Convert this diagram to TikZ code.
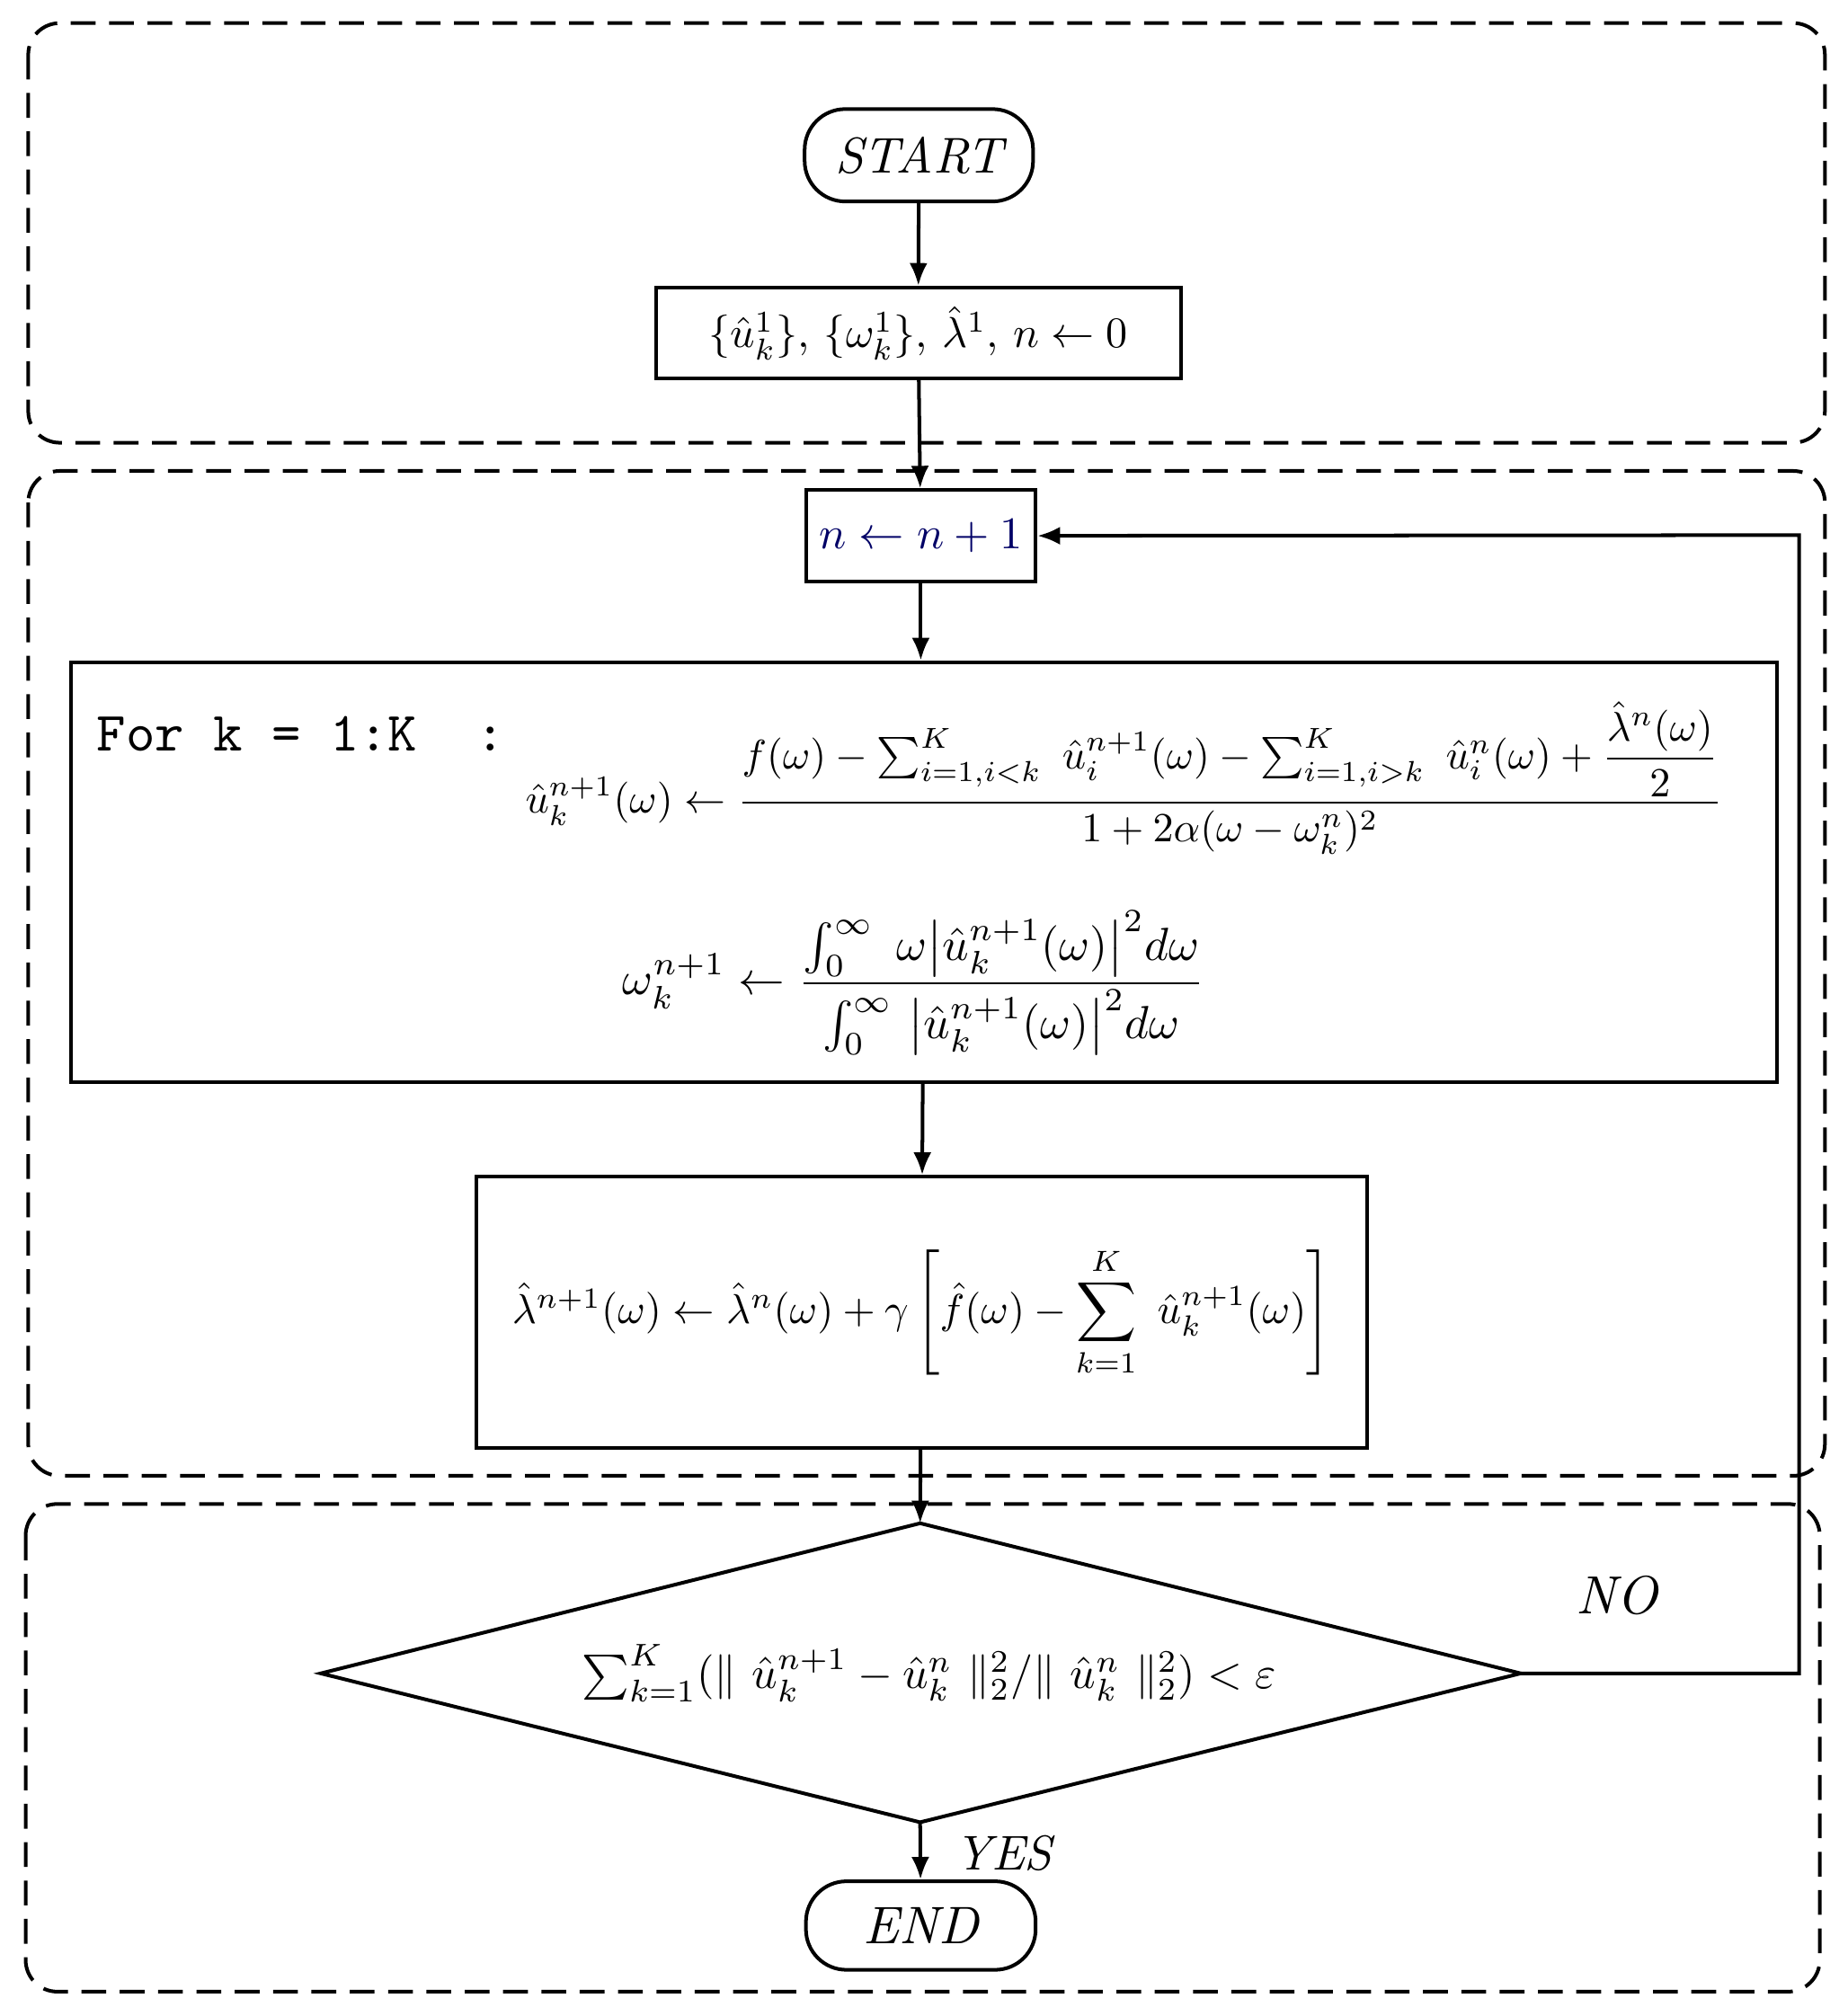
\documentclass[tikz,border=0pt]{standalone}
\usepackage{amsmath,amssymb,graphicx}
\usetikzlibrary{arrows.meta}
\begin{document}
\begin{tikzpicture}[x=0.02cm,y=-0.02cm,
  box/.style={draw,line width=1.6pt,inner sep=0pt},
  grp/.style={draw,line width=1.6pt,dash pattern=on 11pt off 6pt,rounded corners=14pt},
  arr/.style={line width=1.6pt,-{Latex[length=10pt,width=8pt]}},
  txt/.style={inner sep=0pt}]
\useasboundingbox (0,0) rectangle (1440,1571);
\draw[grp] (22,18) rectangle (1422,345);
\draw[grp] (22,367) rectangle (1422,1150);
\draw[grp] (20,1172) rectangle (1418,1552);
% nodes
\node[box,rounded corners=18pt,minimum width=178*0.02cm,minimum height=72*0.02cm] (start) at (716,121) {\resizebox{74pt}{!}{\itshape START}};
\node[box,minimum width=409*0.02cm,minimum height=71*0.02cm] (init) at (715.5,259.5) {\resizebox{186pt}{!}{$\{\hat u_k^1\},\,\{\omega_k^1\},\,\hat\lambda^1,\,n\leftarrow 0$}};
\node[box,text=blue!40!black,minimum width=179*0.02cm,minimum height=71*0.02cm] (n) at (717.5,417.5) {\resizebox{90pt}{!}{$n\leftarrow n+1$}};
\node[box,minimum width=1330*0.02cm,minimum height=327*0.02cm] (big) at (720,679.5) {};
\node[txt,anchor=west] (for) at (75,572) {\resizebox{181pt}{!}{\ttfamily For k = 1:K\ \ :}};
\node[txt] (eq1) at (876,606) {\resizebox{531pt}{!}{$\hat u_k^{n+1}(\omega)\leftarrow\dfrac{f(\omega)-\sum_{i=1,i<k}^{K}\ \hat u_i^{n+1}(\omega)-\sum_{i=1,i>k}^{K}\ \hat u_i^{n}(\omega)+\dfrac{\hat\lambda^n(\omega)}{2}}{1+2\alpha(\omega-\omega_k^n)^2}$}};
\node[txt] (eq2) at (712,766) {\resizebox{258pt}{!}{$\omega_k^{n+1}\leftarrow\dfrac{\int_0^\infty\ \omega\bigl|\hat u_k^{n+1}(\omega)\bigr|^2d\omega}{\int_0^\infty\ \bigl|\hat u_k^{n+1}(\omega)\bigr|^2d\omega}$}};
\node[box,minimum width=694*0.02cm,minimum height=211*0.02cm] (lam) at (718,1022.5) {\resizebox{363pt}{!}{$\hat\lambda^{n+1}(\omega)\leftarrow\hat\lambda^{n}(\omega)+\gamma\left[\hat f(\omega)-\displaystyle\sum_{k=1}^{K}\ \hat u_k^{n+1}(\omega)\right]$}};
\coordinate (dt) at (717,1187);
\coordinate (db) at (717,1420);
\coordinate (dl) at (250,1304);
\coordinate (dr) at (1185,1304);
\draw[line width=1.6pt] (dt) -- (dr) -- (db) -- (dl) -- cycle;
\node[txt] (cond) at (724,1304) {\resizebox{308pt}{!}{$\sum_{k=1}^{K}(\|\ \hat u_k^{n+1}-\hat u_k^{n}\ \|_2^2/\|\ \hat u_k^{n}\ \|_2^2)<\varepsilon$}};
\node[box,rounded corners=18pt,minimum width=179*0.02cm,minimum height=69*0.02cm] (end) at (717.5,1500.5) {\resizebox{51pt}{!}{\itshape END}};
\node[txt] (no) at (1260,1243) {\resizebox{36pt}{!}{\itshape NO}};
\node[txt] (yes) at (782,1444) {\resizebox{43pt}{!}{\itshape YES}};
% connectors
\draw[arr] (start) -- (init);
\draw[arr] (init) -- (n);
\draw[arr] (n) -- (n.south|-big.north);
\draw[arr] (big) -- (lam);
\draw[arr] (lam) -- (dt);
\draw[arr] (db) -- (end);
\draw[arr] (dr) -- (1402,1304) -- (1402,417) -- (n.east);
\end{tikzpicture}
\end{document}
